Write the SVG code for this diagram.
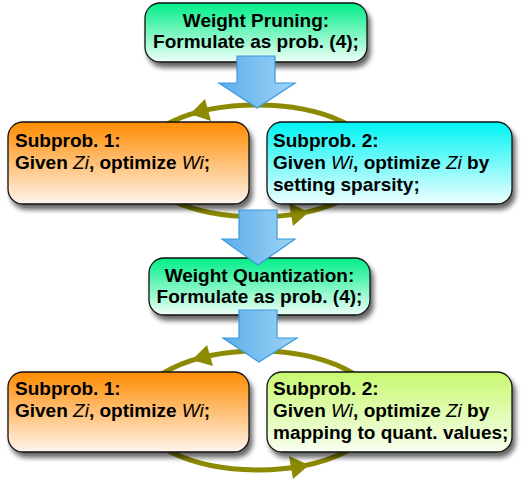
<svg xmlns="http://www.w3.org/2000/svg" width="524" height="488" viewBox="0 0 524 488">
<defs>
<linearGradient id="gGreen" x1="0" y1="0" x2="0" y2="1"><stop offset="0" stop-color="#00ee88"/><stop offset="1" stop-color="#effff7"/></linearGradient>
<linearGradient id="gOrange" x1="0" y1="0" x2="0" y2="1"><stop offset="0" stop-color="#ff8c00"/><stop offset="1" stop-color="#fff4ec"/></linearGradient>
<linearGradient id="gCyan" x1="0" y1="0" x2="0" y2="1"><stop offset="0" stop-color="#00f4f4"/><stop offset="1" stop-color="#effefe"/></linearGradient>
<linearGradient id="gLime" x1="0" y1="0" x2="0" y2="1"><stop offset="0" stop-color="#c8f870"/><stop offset="1" stop-color="#f8fff0"/></linearGradient>
<linearGradient id="gBlue" x1="0" y1="0" x2="1" y2="0"><stop offset="0" stop-color="#5aaeea"/><stop offset="1" stop-color="#9fd3f6"/></linearGradient>
<filter id="shadow" x="-10%" y="-15%" width="125%" height="145%">
<feGaussianBlur in="SourceAlpha" stdDeviation="2.5"/>
<feOffset dx="3" dy="5" result="b"/>
<feComponentTransfer><feFuncA type="linear" slope="0.6"/></feComponentTransfer>
<feMerge><feMergeNode/><feMergeNode in="SourceGraphic"/></feMerge>
</filter>
</defs>
<style>
.box{stroke:#111;stroke-width:1.3;filter:url(#shadow)}
.t{font-family:"Liberation Sans",Arial,sans-serif;font-weight:bold;font-size:19px;fill:#000}
.c{text-anchor:middle}
.i{font-style:italic;font-weight:normal}
.loop{fill:none;stroke:#8c8a00;stroke-width:5}
.head{fill:#8c8a00}
.flow{fill:url(#gBlue);stroke:#3a98dc;stroke-width:1.2}
</style>

<g id="connectors-loops">
<ellipse class="loop" cx="257" cy="161" rx="120" ry="56"/>
<polygon class="head" points="190,114 211,121 205,99"/>
<polygon class="head" points="309,212 293,226 289,203"/>
<ellipse class="loop" cx="258" cy="410.5" rx="122" ry="59.5"/>
<polygon class="head" points="192,360 213,366 207,345"/>
<polygon class="head" points="309,465 293,479 289,456"/>
</g>

<g id="node-pruning">
<rect class="box" x="145" y="3" width="222" height="59" rx="15" fill="url(#gGreen)"/>
<text class="t c" x="256" y="27">Weight Pruning:</text>
<text class="t c" x="256" y="48">Formulate as prob. (4);</text>
</g>

<g id="node-sub1a">
<rect class="box" x="8" y="122" width="241" height="82" rx="15" fill="url(#gOrange)"/>
<text class="t" x="15" y="147">Subprob. 1:</text>
<text class="t" x="15" y="169">Given <tspan class="i">Zi</tspan>, optimize <tspan class="i">Wi</tspan>;</text>
</g>

<g id="node-sub2a">
<rect class="box" x="267" y="122" width="245" height="82" rx="15" fill="url(#gCyan)"/>
<text class="t" x="273" y="147">Subprob. 2:</text>
<text class="t" x="273" y="169">Given <tspan class="i">Wi</tspan>, optimize <tspan class="i">Zi</tspan> by</text>
<text class="t" x="273" y="191">setting sparsity;</text>
</g>

<g id="node-quant">
<rect class="box" x="149" y="258" width="221" height="57" rx="15" fill="url(#gGreen)"/>
<text class="t c" x="259.5" y="282">Weight Quantization:</text>
<text class="t c" x="259.5" y="303">Formulate as prob. (4);</text>
</g>

<g id="node-sub1b">
<rect class="box" x="8" y="372" width="241" height="80" rx="15" fill="url(#gOrange)"/>
<text class="t" x="15" y="395">Subprob. 1:</text>
<text class="t" x="15" y="417">Given <tspan class="i">Zi</tspan>, optimize <tspan class="i">Wi</tspan>;</text>
</g>

<g id="node-sub2b">
<rect class="box" x="267" y="372" width="245" height="80" rx="15" fill="url(#gLime)"/>
<text class="t" x="273" y="395">Subprob. 2:</text>
<text class="t" x="273" y="417">Given <tspan class="i">Wi</tspan>, optimize <tspan class="i">Zi</tspan> by</text>
<text class="t" x="273" y="439">mapping to quant. values;</text>
</g>

<g id="connectors-flow">
<polygon class="flow" points="237,56 275,56 275,83 295,83 257,108 219,83 237,83"/>
<polygon class="flow" points="239,210 277,210 277,239 295,239 258,265 222,239 239,239"/>
<polygon class="flow" points="239,310 277,310 277,338 297,338 259,362 223,338 239,338"/>
</g>
</svg>
